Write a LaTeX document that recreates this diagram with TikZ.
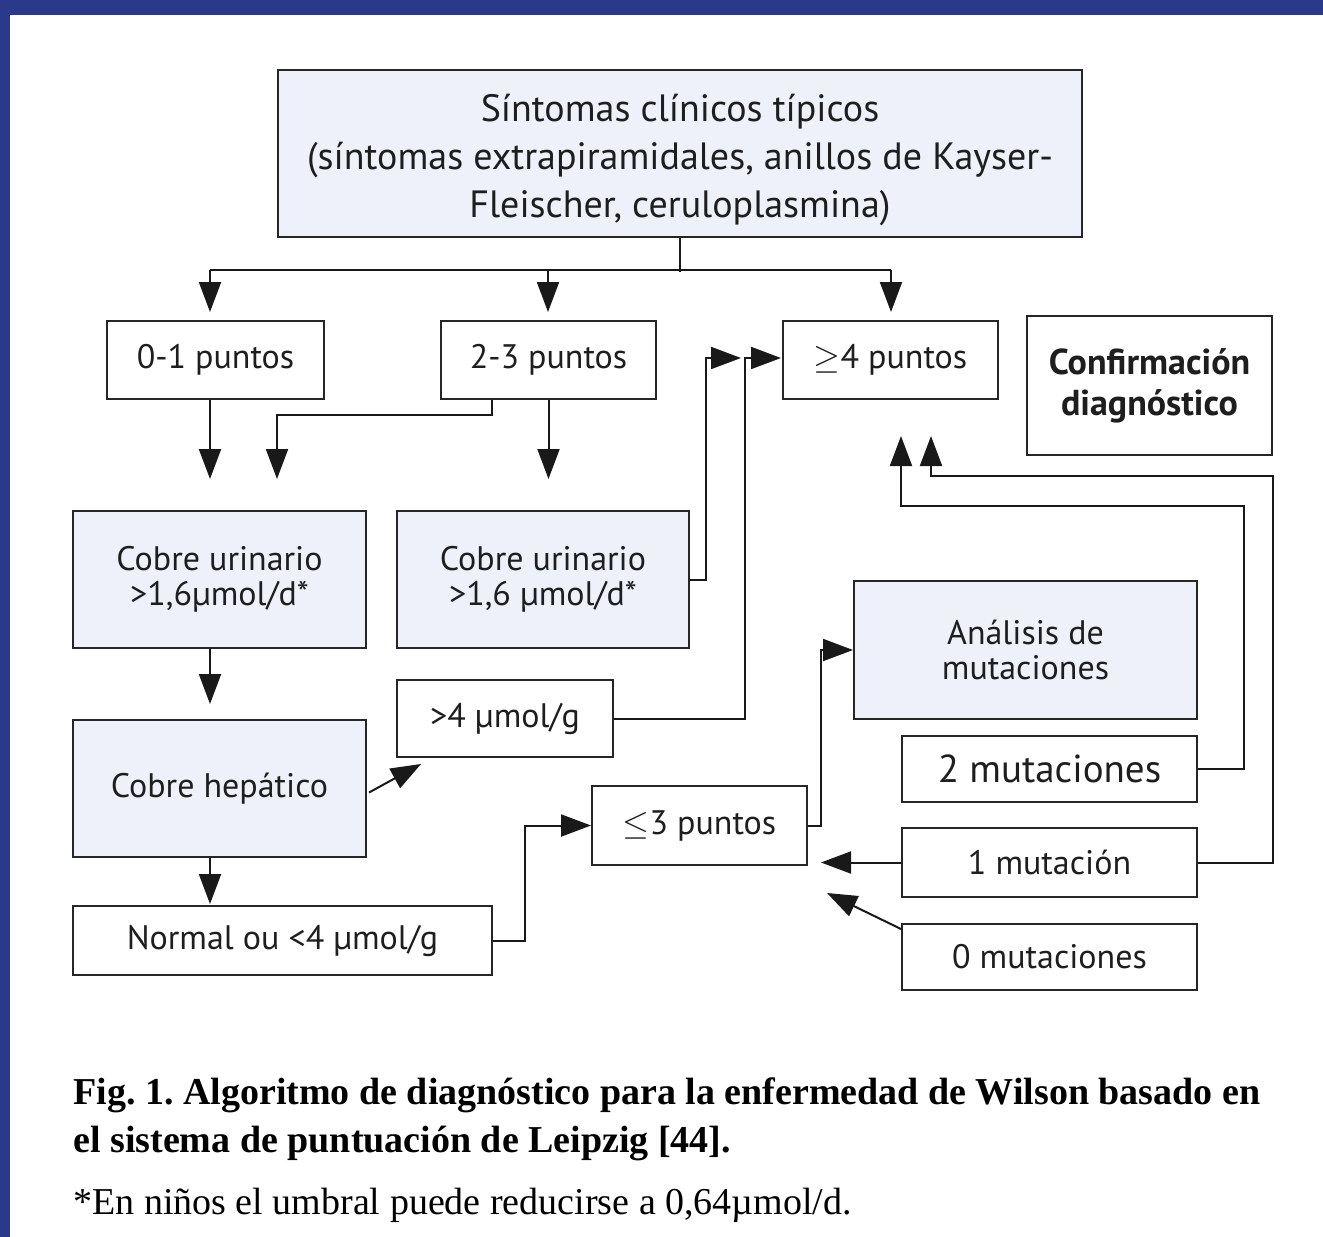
\documentclass[tikz,border=0pt]{standalone}
\usepackage{fontspec}
\setmainfont{PT Sans}
\newfontfamily\capfont{Liberation Serif}
\usetikzlibrary{arrows.meta,calc}
\definecolor{frameblue}{RGB}{43,57,138}
\definecolor{boxfill}{RGB}{238,241,249}
\definecolor{txt}{RGB}{30,30,30}
\frenchspacing
\begin{document}
\begin{tikzpicture}[x=0.5pt,y=-0.5pt,
  box/.style={draw=black!85, line width=1pt, inner sep=2pt, align=center, text=txt, font=\fontsize{17}{17.5}\selectfont},
  fbox/.style={box, fill=boxfill},
  arr/.style={line width=1pt, draw=black!90, -{Triangle[length=15pt,width=11pt]}},
  ln/.style={line width=1pt, draw=black!90},
  captext/.style={anchor=west, inner sep=0pt, text=black, align=left}]
\useasboundingbox (0,0) rectangle (1323,1237);
\fill[white] (0,0) rectangle (1323,1237);
\fill[frameblue] (0,0) rectangle (1323,15);
\fill[frameblue] (0,0) rectangle (10,1237);

% nodes
\node[fbox, minimum width=402pt, minimum height=83.5pt, font=\fontsize{19}{24}\selectfont] (top) at (680,153.5)
  {\rule{0pt}{20.5pt}Síntomas clínicos típicos\\(síntomas extrapiramidales, anillos de Kayser-\\Fleischer, ceruloplasmina)};
\node[box, minimum width=108.5pt, minimum height=39pt] (p01) at (215.5,360) {0-1 puntos};
\node[box, minimum width=107.5pt, minimum height=39pt] (p23) at (548.5,360) {2-3 puntos};
\node[box, minimum width=107.5pt, minimum height=39pt] (p4) at (890.5,360) {$\geq$4 puntos};
\node[box, minimum width=122.5pt, minimum height=69.5pt, font=\fontsize{18}{20.5}\selectfont\bfseries] (conf) at (1149.5,385.5) {Confirmación\\diagnóstico};
\node[fbox, minimum width=146.5pt, minimum height=68.5pt] (cu1) at (219.5,579.5) {Cobre urinario\\>1,6µmol/d*};
\node[fbox, minimum width=146pt, minimum height=68.5pt] (cu2) at (543,579.5) {Cobre urinario\\>1,6 µmol/d*};
\node[box, minimum width=108pt, minimum height=38.5pt] (g4) at (505,718.5) {>4 µmol/g};
\node[fbox, minimum width=146.5pt, minimum height=68.5pt] (ch) at (219.5,788.5) {Cobre hepático};
\node[box, minimum width=209.5pt, minimum height=34.5pt] (norm) at (282.5,940.5) {Normal ou <4 µmol/g};
\node[box, minimum width=107.5pt, minimum height=39.5pt] (p3) at (699.5,825.5) {$\leq$3 puntos};
\node[fbox, minimum width=171.5pt, minimum height=69pt] (anal) at (1025.5,650) {Análisis de\\mutaciones};
\node[box, minimum width=147.5pt, minimum height=33pt, font=\fontsize{19.5}{22}\selectfont] (m2) at (1049.5,769) {2 mutaciones};
\node[box, minimum width=147.5pt, minimum height=34.5pt] (m1) at (1049.5,862.5) {1 mutación};
\node[box, minimum width=147.5pt, minimum height=33pt] (m0) at (1049.5,957) {0 mutaciones};

% connectors
\draw[ln] (top.south) -- ++(0,34) coordinate (hb);
\draw[ln] ($(p01.north)+(-5.5,-50)$) -- ($(p4.north)+(0.5,-50)$);
\draw[arr] ($(p01.north)+(-5.5,-50)$) -- ++(0,42);
\draw[arr] ($(p23.north)+(-0.5,-50)$) -- ++(0,42);
\draw[arr] ($(p4.north)+(0.5,-50)$) -- ++(0,42);

\draw[arr] ($(p01.south)+(-5.5,0)$) -- ++(0,79);
\draw[arr] ($(p23.south)+(-56.5,0)$) -- ++(0,15) -- ++(-215,0) -- ++(0,64);
\draw[arr] (p23.south) -- ++(0,79);

\draw[arr] (cu2.east) -- ++(16,0) |- ($(p4.west)+(-41,-2)$);
\draw[arr] (g4.east) -- ++(131,0) |- ($(p4.west)+(-1,-2)$);

\draw[arr] ($(cu1.south)+(-9.5,0)$) -- ++(0,55);
\draw[arr] ($(ch.east)+(2,4)$) -- ($(g4.south west)+(25,6)$);
\draw[arr] ($(ch.south)+(-9.5,0)$) -- ++(0,46);
\draw[arr] (norm.east) -- ++(32,0) |- (p3.west);
\draw[arr] (p3.east) -- ++(13,0) |- (anal.west);

\draw[arr] (m1.west) -- ++(-80,0);
\draw[arr] ($(m0.north west)+(0,6)$) -- ($(p3.south east)+(19,27)$);

\draw[arr] (m2.east) -- ++(46,0) |- ($(p4.south)+(10.5,106)$) -- ($(p4.south)+(10.5,36)$);
\draw[arr] (m1.east) -- ++(75,0) |- ($(p4.south)+(40.5,76)$) -- ($(p4.south)+(40.5,36)$);

% caption
\node[captext, font=\capfont\bfseries\fontsize{19}{24}\selectfont] (c1) at (73,1095) {Fig. 1. Algoritmo de diagnóstico para la enfermedad de Wilson basado en};
\node[captext, font=\capfont\bfseries\fontsize{19}{24}\selectfont] (c2) at (73,1143) {el sistema de puntuación de Leipzig [44].};
\node[captext, font=\capfont\fontsize{19}{24}\selectfont] (c3) at (73,1205) {*En niños el umbral puede reducirse a 0,64µmol/d.};
\end{tikzpicture}
\end{document}
